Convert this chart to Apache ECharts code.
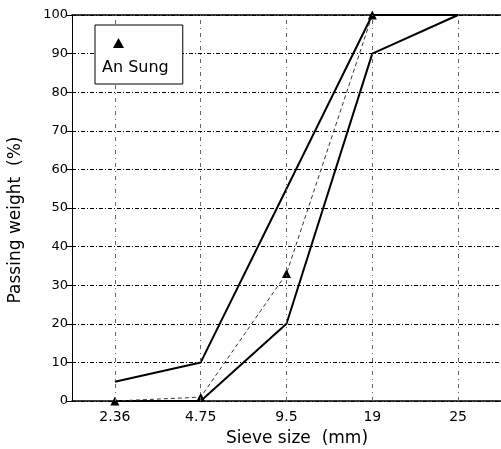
<!DOCTYPE html>
<html>
<head>
<meta charset="utf-8">
<script src="https://cdn.jsdelivr.net/npm/echarts@6/dist/echarts.min.js"></script>
<style>
  html, body { margin: 0; padding: 0; background: #fff; }
  #chart { width: 501px; height: 449px; }
</style>
</head>
<body>
<div id="chart"></div>
<script>
const sieveSizes = ['2.36', '4.75', '9.5', '19', '25']
const upperLimit = [5, 10, 55, 100, 100]
const lowerLimit = [0, 0, 20, 90, 100]
const anSung = [0, 1, 33, 100]
const yTicks = { min: 0, max: 100, step: 10 }

const font = 'DejaVu Sans, sans-serif'
const chart = echarts.init(document.getElementById('chart'))

const option = {
  animation: false,
  backgroundColor: '#fff',
  grid: { left: 72, right: 0, top: 15, bottom: 48, outerBoundsMode: 'none' },
  legend: {
    data: ['An Sung'],
    z: 20,
    left: 95,
    top: 25,
    padding: [13, 14, 8, 7],
    backgroundColor: '#fff',
    borderColor: '#000',
    borderWidth: 1,
    icon: 'triangle',
    itemWidth: 11,
    itemHeight: 10,
    formatter: (name) => '{t|' + name + '}',
    textStyle: {
      rich: {
        t: { fontFamily: font, fontSize: 16, color: '#000', padding: [50, 0, 0, -27] }
      }
    }
  },
  xAxis: [
    {
      type: 'category',
      data: sieveSizes,
      boundaryGap: true,
      name: 'Sieve size  (mm)',
      nameLocation: 'middle',
      nameGap: 29,
      nameTextStyle: { fontFamily: font, fontSize: 17, color: '#000', padding: [0, 0, 0, 21] },
      axisLine: { lineStyle: { color: '#000', width: 1.5 } },
      axisTick: { show: false },
      axisLabel: { fontFamily: font, fontSize: 14, color: '#000', margin: 9 },
      splitLine: { show: false }
    },
    {
      type: 'category',
      data: sieveSizes,
      position: 'top',
      axisLine: { onZero: false, lineStyle: { color: '#000', width: 1.5 } },
      axisTick: { show: false },
      axisLabel: { show: false },
      splitLine: { show: false }
    }
  ],
  yAxis: {
    type: 'value',
    min: yTicks.min,
    max: yTicks.max,
    interval: yTicks.step,
    name: 'Passing weight  (%)',
    nameLocation: 'middle',
    nameGap: 48,
    nameTextStyle: { fontFamily: font, fontSize: 17, color: '#000', padding: [0, 24, 0, 0] },
    axisLine: { show: true, lineStyle: { color: '#000', width: 1 } },
    axisTick: { show: true, length: 6, lineStyle: { color: '#000' } },
    axisLabel: { fontFamily: font, fontSize: 13, color: '#000', margin: 4 },
    splitLine: { lineStyle: { color: '#000', width: 1, type: [4, 2, 1, 2] } }
  },
  series: [
    {
      name: 'upper',
      type: 'line',
      data: upperLimit,
      symbol: 'none',
      lineStyle: { color: '#000', width: 2 },
      markLine: {
        silent: true,
        symbol: 'none',
        label: { show: false },
        lineStyle: { color: '#666', width: 1, type: [4, 4, 1, 4] },
        data: sieveSizes.map((s) => ({ xAxis: s }))
      }
    },
    {
      name: 'lower',
      type: 'line',
      data: lowerLimit,
      symbol: 'none',
      lineStyle: { color: '#000', width: 2 }
    },
    {
      name: 'An Sung',
      type: 'line',
      data: anSung,
      symbol: 'triangle',
      symbolSize: 9,
      itemStyle: { color: '#000' },
      lineStyle: { color: '#333', width: 1, type: [4, 3] }
    }
  ]
}
chart.setOption(option)
</script>
</body>
</html>
